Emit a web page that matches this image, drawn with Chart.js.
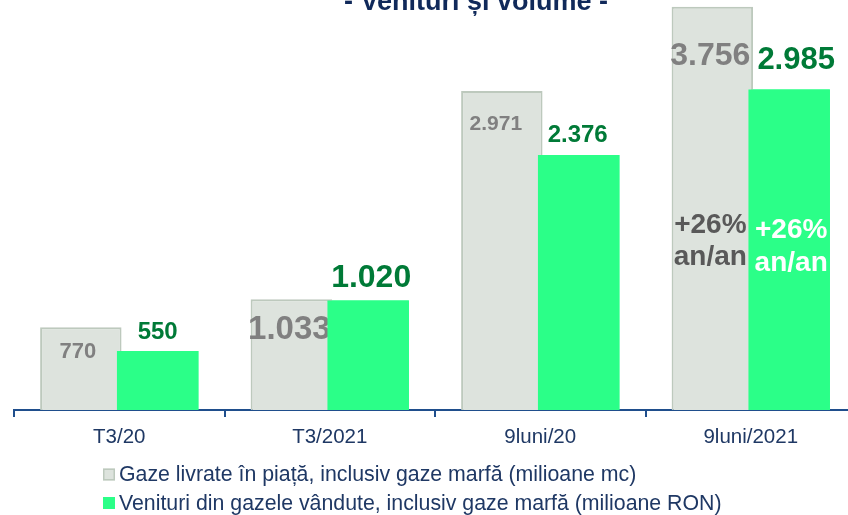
<!DOCTYPE html>
<html><head><meta charset="utf-8">
<script src="https://cdn.jsdelivr.net/npm/chart.js@4"></script>
<style>html,body{margin:0;padding:0;overflow:hidden;background:#fff}#wrap{width:848px;height:515px;overflow:hidden;position:relative}canvas{display:block}</style>
</head><body><div id="wrap"><canvas id="c" width="856" height="515" style="width:856px;height:515px"></canvas></div>
<script>
// ---- data ----
const categories = ['T3/20', 'T3/2021', '9luni/20', '9luni/2021'];
const gazeLivrate = [770, 1033, 2971, 3756];
const venituri = [550, 1020, 2376, 2985];
const gazeLabels = ['770', '1.033', '2.971', '3.756'];
const venituriLabels = ['550', '1.020', '2.376', '2.985'];
const growthLabels = ['+26%', 'an/an'];
const seriesNames = [
  'Gaze livrate în piață, inclusiv gaze marfă (milioane mc)',
  'Venituri din gazele vândute, inclusiv gaze marfă (milioane RON)'
];
const titleText = '- Venituri și volume -';
const yMax = 3820;

// ---- styles ----
const FONT = '"Liberation Sans", Arial, sans-serif';
const GREY_FILL = '#DDE3DD', GREY_BORDER = '#BDC9BD', GREEN = '#2BFF88';
const NAVY = '#1F3864', AXIS = '#1F4E8C';
const greyLblSize = [22, 33, 21, 32], greyLblDx = [-3, -2, -6, -2], greyLblDy = [25, 31, 33, 49];
const greenLblSize = [24, 32, 24, 31], greenLblDx = [0, 3, -1, 7], greenLblDy = [-19, -22, -20, -29];

const overlay = {
  id: 'overlay',
  afterDatasetsDraw(chart) {
    const ctx = chart.ctx;
    const gMeta = chart.getDatasetMeta(0), vMeta = chart.getDatasetMeta(1);
    ctx.save();
    ctx.textAlign = 'center';
    ctx.textBaseline = 'middle';
    // grey labels (inside grey bars)
    gMeta.data.forEach((bar, i) => {
      ctx.font = 'bold ' + greyLblSize[i] + 'px ' + FONT;
      ctx.fillStyle = '#808080';
      ctx.fillText(gazeLabels[i], bar.x + greyLblDx[i], bar.y + greyLblDy[i]);
    });
    ctx.restore();
    // green bars on top of grey ones
    vMeta.controller.draw();
    ctx.save();
    ctx.textAlign = 'center';
    ctx.textBaseline = 'middle';
    vMeta.data.forEach((bar, i) => {
      ctx.font = 'bold ' + greenLblSize[i] + 'px ' + FONT;
      ctx.fillStyle = '#007A37';
      ctx.fillText(venituriLabels[i], bar.x + greenLblDx[i], bar.y + greenLblDy[i]);
    });
    // growth annotations on last category
    const last = categories.length - 1;
    const base = chart.chartArea.bottom;
    const gb = gMeta.data[last], vb = vMeta.data[last];
    ctx.font = 'bold 28px ' + FONT;
    ctx.fillStyle = '#595959';
    ctx.fillText(growthLabels[0], gb.x - 2, base - 185);
    ctx.fillText(growthLabels[1], gb.x - 2, base - 153);
    ctx.fillStyle = '#FFFFFF';
    ctx.fillText(growthLabels[0], vb.x + 2, base - 180);
    ctx.fillText(growthLabels[1], vb.x + 2, base - 147);
    // title (partially off-canvas)
    ctx.font = 'bold 27px ' + FONT;
    ctx.fillStyle = '#10295A';
    ctx.textBaseline = 'alphabetic';
    ctx.fillText(titleText, 476, 9.5);
    // legend
    ctx.textAlign = 'left';
    ctx.textBaseline = 'middle';
    ctx.font = '21.3px ' + FONT;
    const rows = [474.5, 503];
    const fills = [GREY_FILL, GREEN];
    rows.forEach((y, i) => {
      ctx.fillStyle = fills[i];
      ctx.fillRect(103, y - 6, 12, 12);
      if (i === 0) {
        ctx.strokeStyle = GREY_BORDER;
        ctx.lineWidth = 1.5;
        ctx.strokeRect(103.75, y - 5.25, 10.5, 10.5);
      }
      ctx.fillStyle = NAVY;
      ctx.fillText(seriesNames[i], 119, y + 1);
    });
    ctx.restore();
  }
};

new Chart(document.getElementById('c'), {
  type: 'bar',
  data: {
    labels: categories,
    datasets: [
      { label: seriesNames[0], data: gazeLivrate, backgroundColor: GREY_FILL, borderColor: GREY_BORDER,
        borderWidth: 2, borderSkipped: 'bottom', categoryPercentage: 0.73, barPercentage: 1.06 },
      { label: seriesNames[1], data: venituri, backgroundColor: GREEN, borderWidth: 0,
        categoryPercentage: 0.73, barPercentage: 1.06 }
    ]
  },
  options: {
    responsive: false,
    devicePixelRatio: 1,
    animation: false,
    layout: { padding: { left: 14, right: 0, top: 0, bottom: 0 } },
    plugins: { legend: { display: false }, title: { display: false }, tooltip: { enabled: false } },
    scales: {
      y: { display: false, min: 0, max: yMax },
      x: {
        offset: true,
        afterFit(scale) { scale.height = 105; },
        grid: { display: true, drawOnChartArea: false, drawTicks: true, tickLength: 7, offset: true, color: AXIS, lineWidth: 2 },
        border: { display: true, color: AXIS, width: 2 },
        ticks: { color: NAVY, font: { family: FONT, size: 20.5 }, padding: 8, maxRotation: 0 }
      }
    }
  },
  plugins: [overlay]
});
</script>
</body></html>
